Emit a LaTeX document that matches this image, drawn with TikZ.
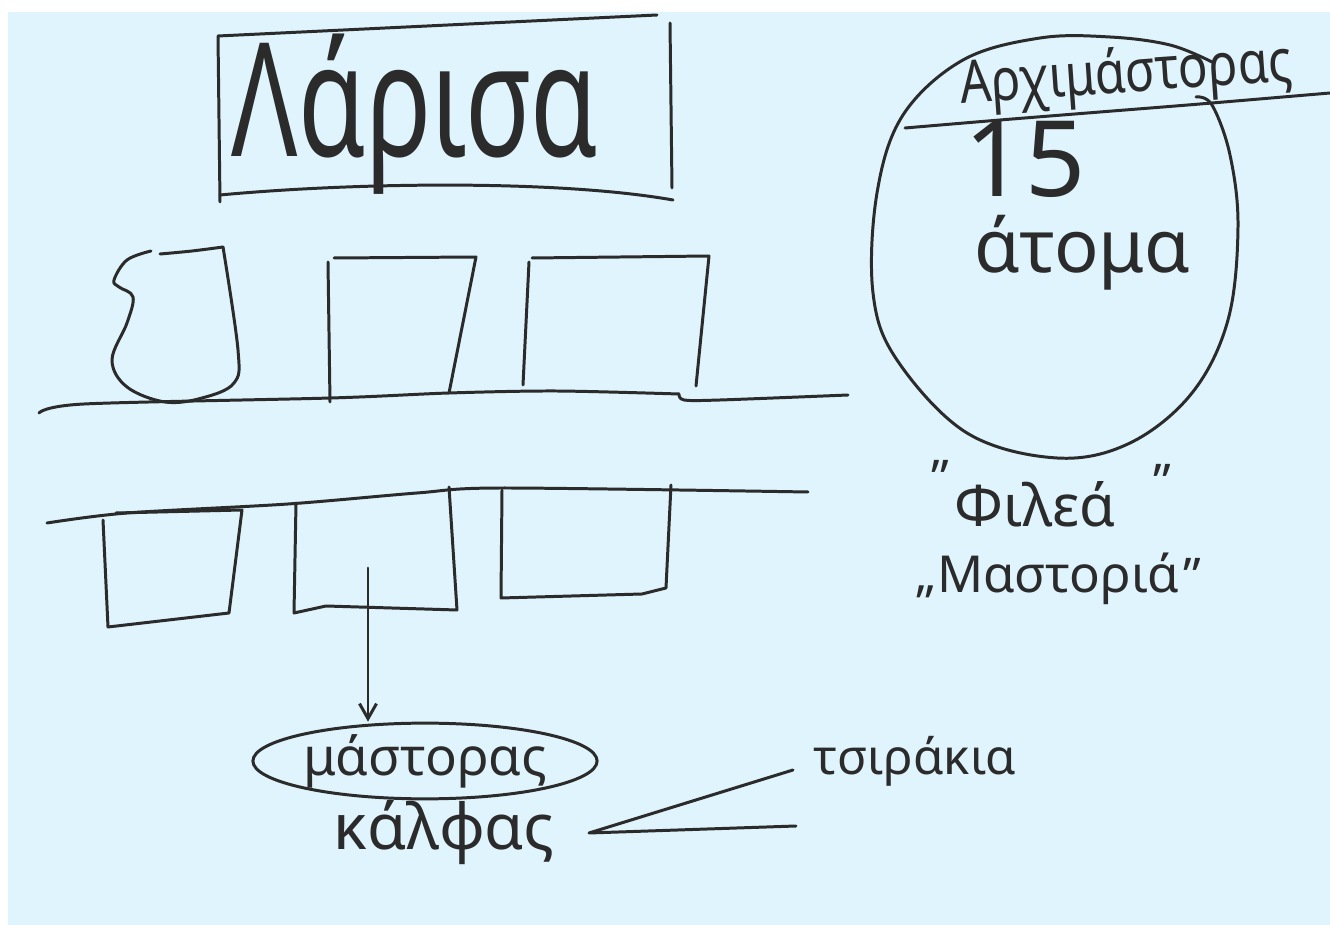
\documentclass[tikz,border=0pt]{standalone}
\usepackage{fontspec}
\usepackage{graphicx}
\setmainfont{Noto Sans}
\usetikzlibrary{arrows.meta,positioning,shapes.geometric}
\definecolor{paper}{HTML}{DFF4FC}
\definecolor{inkc}{HTML}{2B2B2B}
\newcommand{\fsz}[1]{\fontsize{#1}{#1}\selectfont}

\begin{document}
\begin{tikzpicture}[x=0.02cm, y=-0.02cm,
  ink/.style={draw=inkc, line width=1.7pt, line cap=round, line join=round},
  txt/.style={text=inkc, inner sep=0pt, anchor=base},
  quo/.style={text=inkc, inner sep=0pt, font=\fsz{28}},
  >={Straight Barb[length=3mm,width=3.4mm]}]
% paper
\fill[white] (0,0) rectangle (1330,925);
\fill[paper] (8,12) rectangle (1330,925);
\useasboundingbox (0,0) rectangle (1330,925);

% city frame
\node[txt, font=\fsz{62}] (city) at (415,157) {\scalebox{1}[1.45]{Λάρισα}};
\draw[ink] (220,202) -- (218,36) -- (657,15);
\draw[ink] (670,23) -- (672,188);
\draw[ink] (673,200) .. controls (560,180) and (360,182) .. (220,195);

% upper row of workshops
\draw[ink] plot[smooth, tension=0.6] coordinates {(151,251) (127,260) (114,280) (119,287) (133,297) (127,323) (112,360) (127,387) (165,402) (202,398) (234,383) (238,350) (223,247)};
\draw[ink] plot[smooth, tension=0.6] coordinates {(223,247) (192,251) (160,254)};
\draw[ink] (328,262) -- (330,402);
\draw[ink] (334,258) -- (476,257) -- (449,393);
\draw[ink] (529,262) -- (523,385);
\draw[ink] (532,258) -- (709,256) -- (696,386);
\draw[ink] plot[smooth, tension=0.5] coordinates {(39,413) (84,404) (331,398) (449,393) (556,391) (679,394)};
\draw[ink] plot[smooth, tension=0.5] coordinates {(679,394) (684,400) (720,400) (848,395)};

% lower row of workshops
\draw[ink] plot[smooth, tension=0.5] coordinates {(47,523) (127,513) (288,504) (417,493) (502,488) (808,492)};
\draw[ink] (116,513) -- (242,510) -- (229,613) -- (108,627) -- (103,520);
\draw[ink] (296,503) -- (294,613) -- (326,606) -- (457,610) -- (449,487);
\draw[ink] (502,490) -- (501,598) -- (642,594) -- (666,588) -- (671,485);

% guild hierarchy
\coordinate (wsh) at (368,568);
\node[ellipse, ink, text=inkc, inner sep=0pt, minimum width=6.36cm, minimum height=1.44cm, font=\fsz{30}] (mast) at (425,761) {μάστορας};
\draw[ink, ->] (wsh) -- (wsh |- mast.north);
\node[txt, font=\fsz{36}] (kalf) at (444,850) {κάλφας};
\node[txt, font=\fsz{28}] (tsir) at (915,775) {τσιράκια};
\coordinate (tup) at (793,770);
\coordinate (tvx) at (589,833);
\coordinate (tlo) at (796,826);
\draw[ink] (tup) -- (tvx) -- (tlo);

% master builder and his crew
\draw[ink] plot[smooth, tension=0.6] coordinates {(1212,62) (1170,45) (1110,37) (1040,38) (963,60) (903,115) (877,193) (873,293) (897,360) (967,433) (1057,458) (1130,443) (1192,393) (1228,320) (1238,227) (1230,155) (1212,105) (1196,97)};
\draw[ink] plot[smooth, tension=0.5] coordinates {(905,128) (1000,120) (1100,112) (1200,104) (1330,93)};
\node[txt, rotate=4, font=\fsz{28}] (arch) at (1127,92) {\scalebox{1}[1.2]{Αρχιμάστορας}};
\node[txt, font=\fsz{60}] (num) at (1025,197) {15};
\node[txt, font=\fsz{42}] (atom) at (1082,273) {άτομα};

\node[txt, font=\fsz{33}] (fil) at (1035,527) {Φιλεά};
\node[txt, font=\fsz{29}] (mst) at (1058,593) {Μαστοριά};
\node[quo] (q1) at (940,478) {”};
\node[quo] (q2) at (1162,482) {”};
\node[quo] (q3) at (926,592) {„};
\node[quo] (q4) at (1192,576) {”};
\end{tikzpicture}
\end{document}
